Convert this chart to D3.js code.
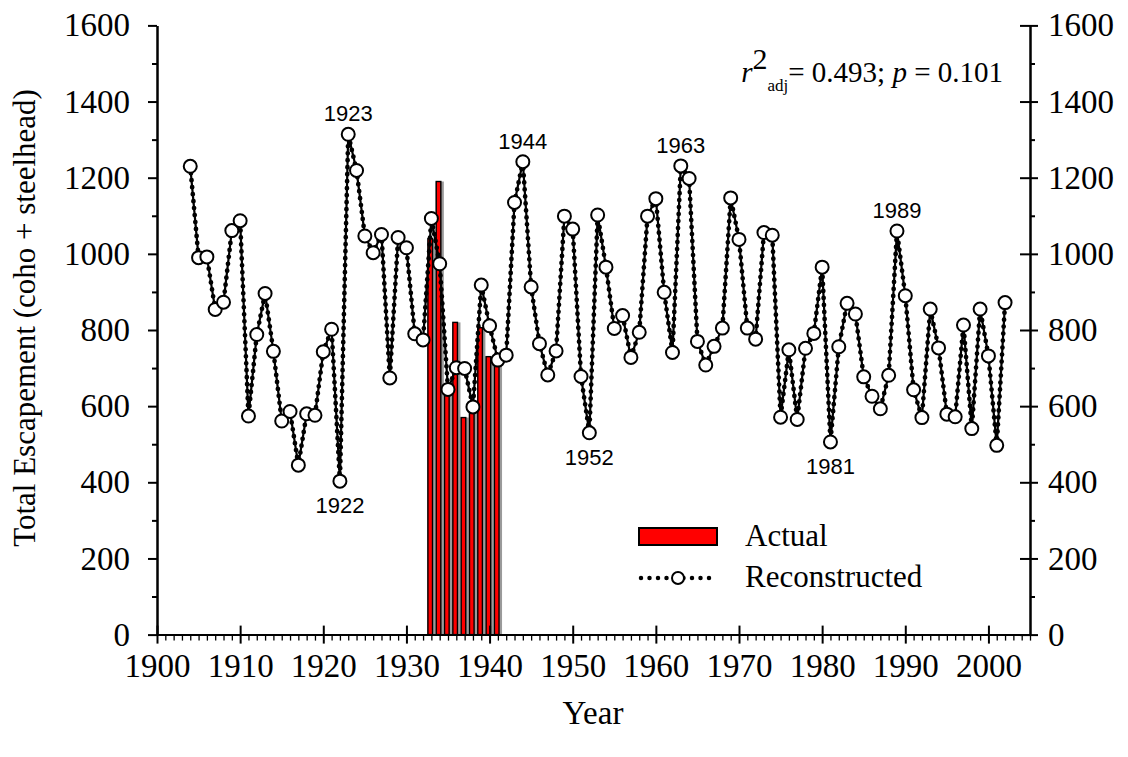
<!DOCTYPE html>
<html>
<head>
<meta charset="utf-8">
<script src="https://cdn.jsdelivr.net/npm/d3@7"></script>
<style>
  body { margin: 0; background: #fff; }
  text { fill: #000; }
</style>
</head>
<body>
<svg width="1128" height="757"></svg>
<script>
// reconstructed escapement, one value a year from 1904 to 2002
var firstYear = 1904;
var reconstructed = [
  1230, 990, 992, 854, 873, 1061, 1087, 574, 788, 896,
  744, 561, 586, 445, 580, 576, 743, 802, 403, 1314,
  1219, 1047, 1003, 1051, 674, 1043, 1016, 790, 774, 1093,
  974, 644, 701, 699, 598, 918, 811, 721, 734, 1135,
  1242, 913, 764, 682, 745, 1099, 1065, 678, 530, 1102,
  965, 804, 838, 728, 794, 1099, 1145, 899, 741, 1231,
  1198, 770, 708, 757, 805, 1147, 1038, 805, 776, 1056,
  1049, 571, 748, 565, 752, 791, 965, 506, 756, 870,
  842, 677, 626, 593, 681, 1060, 890, 643, 570, 855,
  753, 579, 572, 813, 541, 855, 732, 497, 872
];

// actual counts
var actualYears = [1933, 1934, 1935, 1936, 1937, 1938, 1939, 1940, 1941];
var actualValues = [1040, 1190, 650, 820, 570, 595, 806, 730, 710];

// labelled years, peaks above and troughs below
var peakYears = [1923, 1944, 1963, 1989];
var troughYears = [1922, 1952, 1981];

var xTicks = d3.range(1900, 2001, 10);
var xMinor = d3.range(1900, 2006, 1).filter(function (d) { return d % 10 != 0; });
var yTicks = d3.range(0, 1601, 200);
var yMinor = d3.range(100, 1600, 200);

var series = reconstructed.map(function (v, i) {
  return { year: firstYear + i, value: v };
});
var bars = actualYears.map(function (yr, i) {
  return { year: yr, value: actualValues[i] };
});

var svg = d3.select("svg");
var serif = "'Liberation Serif', 'Times New Roman', serif";
var sans = "'Liberation Sans', Arial, sans-serif";

var x = d3.scaleLinear().domain([1900, 2005]).range([157, 1030]);
var y = d3.scaleLinear().domain([0, 1600]).range([634.6, 25.4]);

// bars: grey band under a red bar with black edge
var barG = svg.append("g");
barG.selectAll("rect.back")
  .data(bars)
  .enter()
  .append("rect")
  .attr("class", "back")
  .attr("x", function (d) { return x(d.year - 0.5); })
  .attr("y", function (d) { return y(d.value); })
  .attr("width", function (d) { return x(d.year + 0.5) - x(d.year - 0.5); })
  .attr("height", function (d) { return y(0) - y(d.value); })
  .attr("fill", "#9a9a9a");
barG.selectAll("rect.bar")
  .data(bars)
  .enter()
  .append("rect")
  .attr("class", "bar")
  .attr("x", function (d) { return x(d.year - 0.5) + 0.7; })
  .attr("y", function (d) { return y(d.value); })
  .attr("width", 4.6)
  .attr("height", function (d) { return y(0) - y(d.value); })
  .attr("fill", "#ff0000")
  .attr("stroke", "#000")
  .attr("stroke-width", 1.4);

// axes
function styleAxis(g) {
  g.select(".domain").attr("stroke", "#000").attr("stroke-width", 2);
  g.selectAll(".tick line").attr("stroke", "#000").attr("stroke-width", 2);
  g.selectAll(".tick text").attr("font-family", serif).attr("font-size", 33).attr("fill", "#000");
}

var xAxis = svg.append("g")
  .attr("transform", "translate(0," + y(0) + ")")
  .call(d3.axisBottom(x).tickValues(xTicks).tickFormat(d3.format("d"))
    .tickSize(9).tickPadding(10).tickSizeOuter(0))
  .call(styleAxis);
xAxis.selectAll(".tick line").attr("y1", -9);
svg.append("g")
  .attr("transform", "translate(0," + y(0) + ")")
  .call(d3.axisBottom(x).tickValues(xMinor).tickFormat("").tickSize(6).tickSizeOuter(0))
  .call(styleAxis)
  .selectAll(".tick line").attr("stroke-width", 1.3);

svg.append("g")
  .attr("transform", "translate(" + x(1900) + ",0)")
  .call(d3.axisLeft(y).tickValues(yTicks).tickFormat(d3.format("d"))
    .tickSize(9).tickPadding(18).tickSizeOuter(0))
  .call(styleAxis);
svg.append("g")
  .attr("transform", "translate(" + x(1900) + ",0)")
  .call(d3.axisLeft(y).tickValues(yMinor).tickFormat("").tickSize(5).tickSizeOuter(0))
  .call(styleAxis);

var rAxis = svg.append("g")
  .attr("transform", "translate(" + x(2005) + ",0)")
  .call(d3.axisRight(y).tickValues(yTicks).tickFormat(d3.format("d"))
    .tickSize(8).tickPadding(10).tickSizeOuter(0))
  .call(styleAxis);
rAxis.selectAll(".tick line").attr("x1", -10);
svg.append("g")
  .attr("transform", "translate(" + x(2005) + ",0)")
  .call(d3.axisRight(y).tickValues(yMinor).tickFormat("").tickSize(5).tickSizeOuter(0))
  .call(styleAxis);

// reconstructed line: solid line plus round dots
var line = d3.line()
  .x(function (d) { return x(d.year); })
  .y(function (d) { return y(d.value); });

svg.append("path")
  .datum(series)
  .attr("fill", "none")
  .attr("stroke", "#000")
  .attr("stroke-width", 2.2)
  .attr("d", line);
svg.append("path")
  .datum(series)
  .attr("fill", "none")
  .attr("stroke", "#000")
  .attr("stroke-width", 4.8)
  .attr("stroke-linecap", "round")
  .attr("stroke-dasharray", "0,7")
  .attr("d", line);

svg.append("g")
  .selectAll("circle")
  .data(series)
  .enter()
  .append("circle")
  .attr("cx", function (d) { return x(d.year); })
  .attr("cy", function (d) { return y(d.value); })
  .attr("r", 6.5)
  .attr("fill", "#fff")
  .attr("stroke", "#000")
  .attr("stroke-width", 2);

// year labels on peaks and troughs
function valueOf(yr) { return reconstructed[yr - firstYear]; }
svg.append("g")
  .selectAll("text")
  .data(peakYears)
  .enter()
  .append("text")
  .attr("x", function (d) { return x(d); })
  .attr("y", function (d) { return y(valueOf(d)) - 13; })
  .attr("text-anchor", "middle")
  .attr("font-family", sans)
  .attr("font-size", 22)
  .text(function (d) { return d; });
svg.append("g")
  .selectAll("text")
  .data(troughYears)
  .enter()
  .append("text")
  .attr("x", function (d) { return x(d); })
  .attr("y", function (d) { return y(valueOf(d)) + 32; })
  .attr("text-anchor", "middle")
  .attr("font-family", sans)
  .attr("font-size", 22)
  .text(function (d) { return d; });

// axis titles
svg.append("text")
  .attr("transform", "translate(35," + 318 + ") rotate(-90)")
  .attr("text-anchor", "middle")
  .attr("font-family", serif)
  .attr("font-size", 31)
  .text("Total Escapement (coho + steelhead)");
svg.append("text")
  .attr("x", 593)
  .attr("y", 724)
  .attr("text-anchor", "middle")
  .attr("font-family", serif)
  .attr("font-size", 33)
  .text("Year");

// fit statistics
var stat = svg.append("text")
  .attr("x", 1003)
  .attr("y", 82)
  .attr("text-anchor", "end")
  .attr("font-family", serif)
  .attr("font-size", 29);
stat.append("tspan").attr("font-style", "italic").text("r");
stat.append("tspan").attr("font-size", 30).attr("dy", -13).text("2");
stat.append("tspan").attr("font-size", 17).attr("dy", 22).text("adj");
stat.append("tspan").attr("dy", -9).text("= 0.493; ");
stat.append("tspan").attr("font-style", "italic").text("p");
stat.append("tspan").text(" = 0.101");

// legend
var lg = svg.append("g");
lg.append("rect")
  .attr("x", 639).attr("y", 528)
  .attr("width", 78).attr("height", 17)
  .attr("fill", "#ff0000").attr("stroke", "#000").attr("stroke-width", 2);
lg.append("text")
  .attr("x", 745).attr("y", 546)
  .attr("font-family", serif).attr("font-size", 31)
  .text("Actual");
lg.append("line")
  .attr("x1", 641).attr("x2", 717)
  .attr("y1", 578).attr("y2", 578)
  .attr("stroke", "#000").attr("stroke-width", 4.5)
  .attr("stroke-linecap", "round")
  .attr("stroke-dasharray", "0,8.5");
lg.append("circle")
  .attr("cx", 678).attr("cy", 578).attr("r", 6)
  .attr("fill", "#fff").attr("stroke", "#000").attr("stroke-width", 2);
lg.append("text")
  .attr("x", 745).attr("y", 587)
  .attr("font-family", serif).attr("font-size", 31)
  .text("Reconstructed");
</script>
</body>
</html>
